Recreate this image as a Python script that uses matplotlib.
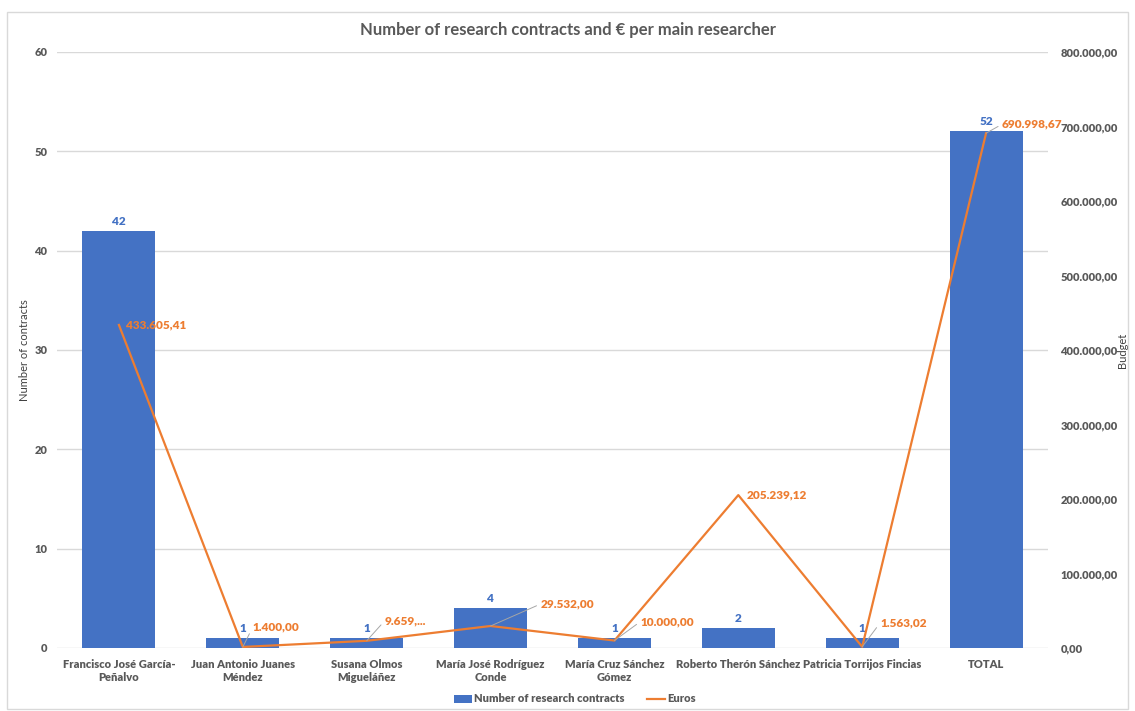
import numpy as np
import matplotlib
matplotlib.use('Agg')
import matplotlib.pyplot as plt
from matplotlib.patches import Rectangle
from matplotlib.ticker import FuncFormatter

plt.rcParams['font.family'] = ['Lato', 'DejaVu Sans']

# data
researchers = ['Francisco José García-\nPeñalvo', 'Juan Antonio Juanes\nMéndez',
               'Susana Olmos\nMigueláñez', 'María José Rodríguez\nConde',
               'María Cruz Sánchez\nGómez', 'Roberto Therón Sánchez',
               'Patricia Torrijos Fincias', 'TOTAL']
contracts = [42, 1, 1, 4, 1, 2, 1, 52]
euros = [433605.41, 1400.00, 9659.12, 29532.00, 10000.00, 205239.12, 1563.02, 690998.67]
euro_labels = ['433.605,41', '1.400,00', '9.659,...', '29.532,00',
               '10.000,00', '205.239,12', '1.563,02', '690.998,67']

# label offsets in pixels (dx, dy) and whether a leader line is drawn
label_offsets = [(7, 0), (10, 20), (18, 20), (50, 22), (26, 19), (8, 0), (18, 24), (16, 9)]
leaders = [False, True, True, True, True, False, True, True]

BLUE = '#4472C4'
ORANGE = '#ED7D31'
GREY = '#595959'
GRID = '#D9D9D9'


def euro_fmt(v, _pos=None):
    s = f'{v:,.2f}'
    return s.replace(',', 'X').replace('.', ',').replace('X', '.')


fig = plt.figure(figsize=(11.35, 7.11), dpi=100)
fig.patches.append(Rectangle((7 / 1135, 2 / 711), 1121 / 1135, 697 / 711,
                             transform=fig.transFigure, fill=False,
                             edgecolor='#D9D9D9', linewidth=1.0))

ax = fig.add_axes([57 / 1135, 1 - 648 / 711, 991 / 1135, 596 / 711])
ax2 = ax.twinx()

x = np.arange(len(researchers))
bars = ax.bar(x, contracts, width=0.59, color=BLUE, zorder=2,
              label='Number of research contracts')
ax.bar_label(bars, labels=[str(c) for c in contracts], padding=3,
             color=BLUE, fontsize=8.5, fontweight='heavy')

ax.set_ylim(0, 60)
ax.set_yticks(range(0, 61, 10))
ax.set_xlim(-0.5, len(researchers) - 0.5)
ax.set_xticks(x)
ax.set_xticklabels(researchers, fontsize=8, color=GREY, fontweight='heavy')
ax.grid(axis='y', color=GRID, linewidth=1.0, zorder=0)
ax.set_axisbelow(True)
ax.tick_params(axis='both', length=0, pad=8)
ax.tick_params(axis='y', labelsize=8, labelcolor=GREY, pad=7)
for lbl in ax.get_yticklabels():
    lbl.set_fontweight('heavy')
ax.set_ylabel('Number of contracts', fontsize=8, color='#404040')
ax.yaxis.set_label_coords(-0.027, 0.5)

line, = ax2.plot(x, euros, color=ORANGE, linewidth=1.6, zorder=3, label='Euros')
ax2.set_ylim(0, 800000)
ax2.set_yticks(range(0, 800001, 100000))
ax2.yaxis.set_major_formatter(FuncFormatter(euro_fmt))
ax2.tick_params(axis='y', length=0, labelsize=8, labelcolor=GREY, pad=9)
for lbl in ax2.get_yticklabels():
    lbl.set_fontweight('heavy')
ax2.set_ylabel('Budget', fontsize=8, color='#404040', rotation=90)
ax2.yaxis.set_label_coords(1.070, 0.5)

for i, (val, txt) in enumerate(zip(euros, euro_labels)):
    dx, dy = label_offsets[i]
    props = None
    if leaders[i]:
        props = dict(arrowstyle='-', color='#A6A6A6', linewidth=0.7,
                     shrinkA=1, shrinkB=0, relpos=(0, 0.5))
    ax2.annotate(txt, xy=(x[i], val), xytext=(dx, dy), textcoords='offset pixels',
                 ha='left', va='center', color=ORANGE, fontsize=8.5,
                 fontweight='heavy', arrowprops=props, zorder=4)

for a in (ax, ax2):
    for spine in a.spines.values():
        spine.set_visible(False)

fig.text(0.5, 1 - 30 / 711, 'Number of research contracts and € per main researcher',
         ha='center', va='center', fontsize=12, fontweight='bold', color=GREY)

fig.legend(handles=[bars, line], labels=['Number of research contracts', 'Euros'],
           loc='center', bbox_to_anchor=(575 / 1135, 1 - 699 / 711), ncol=2,
           frameon=False, prop={'size': 8, 'weight': 'heavy'}, labelcolor=GREY,
           handlelength=1.6, handletextpad=0.2, columnspacing=2.0)

fig.savefig('out.png', dpi=100, facecolor='white')
